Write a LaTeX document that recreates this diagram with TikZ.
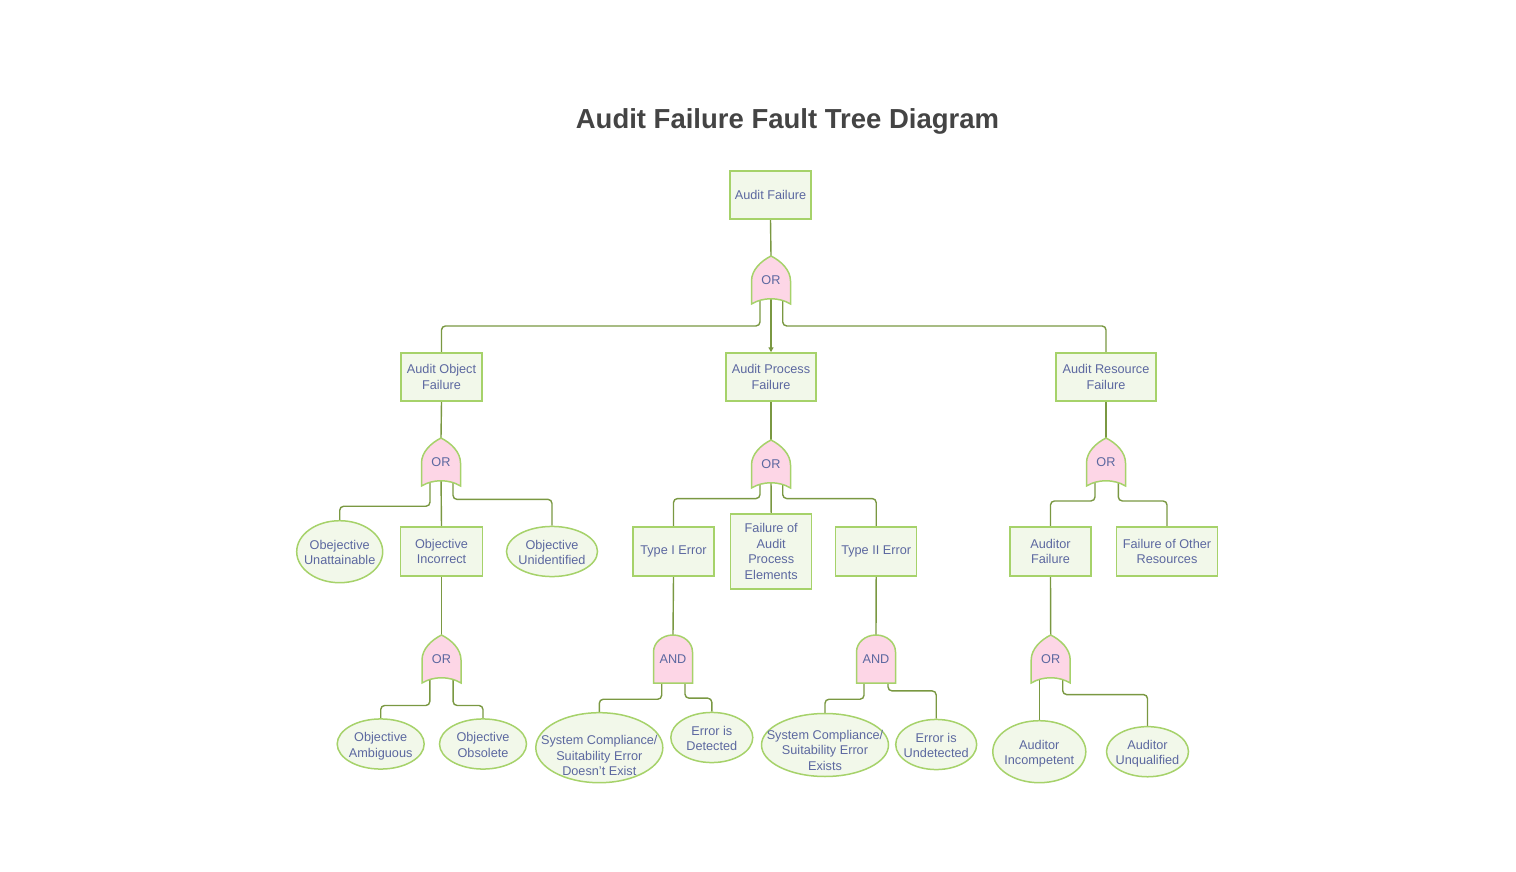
\documentclass[tikz,border=0pt]{standalone}
\usepackage{fontspec}
\setmainfont{Liberation Sans}
\usetikzlibrary{shapes.geometric,arrows.meta}
\definecolor{txtc}{RGB}{92,104,160}
\definecolor{boxfill}{RGB}{242,248,234}
\definecolor{boxline}{RGB}{166,210,106}
\definecolor{linec}{RGB}{122,152,66}
\definecolor{gatefill}{RGB}{253,214,230}
\definecolor{titlec}{RGB}{68,68,68}
\pgfdeclarelayer{background}
\pgfsetlayers{background,main}
\newcommand{\ztext}[1]{\makebox[0pt]{\begin{tabular}{@{}c@{}}\rule{0pt}{15.3pt}#1\end{tabular}}}
\tikzset{
  lbl/.style={font=\fontsize{12.7}{15.5}\selectfont, text=txtc, align=center, inner sep=0pt},
  box/.style={lbl, draw=boxline, fill=boxfill, line width=1.5pt, rectangle},
  ell/.style={lbl, draw=boxline, fill=boxfill, line width=1.5pt, ellipse},
  gatenode/.style={lbl, rectangle, minimum width=39pt, minimum height=48pt},
  gateshape/.style={draw=boxline, fill=gatefill, line width=1.5pt},
  conn/.style={draw=linec, line width=1.4pt, rounded corners=4pt},
}
\newcommand{\drawOrGate}[3]{%
  \path[gateshape] ({#2-19.5},{#3+24}) -- ({#2-19.5},{#3+1})
    .. controls ({#2-19.5},{#3-10}) and ({#2-10},{#3-19}) .. ({#2},{#3-24})
    .. controls ({#2+10},{#3-19}) and ({#2+19.5},{#3-10}) .. ({#2+19.5},{#3+1})
    -- ({#2+19.5},{#3+24})
    .. controls ({#2+8},{#3+17}) and ({#2-8},{#3+17}) .. cycle;
  \node[gatenode] (#1) at (#2,#3) {OR};
}
\newcommand{\drawAndGate}[3]{%
  \path[gateshape] ({#2-19.5},{#3+24}) -- ({#2-19.5},{#3-7})
    .. controls ({#2-19.5},{#3-16.4}) and ({#2-10.8},{#3-24}) .. ({#2},{#3-24})
    .. controls ({#2+10.8},{#3-24}) and ({#2+19.5},{#3-16.4}) .. ({#2+19.5},{#3-7})
    -- ({#2+19.5},{#3+24}) -- cycle;
  \node[gatenode] (#1) at (#2,#3) {AND};
}
\begin{document}
\begin{tikzpicture}[x=1pt,y=-1pt]
\useasboundingbox (0,0) rectangle (1516,872);

\node[text=titlec, inner sep=0pt] (title) at (787.5,121) {\fontsize{27.5}{30}\selectfont\bfseries Audit Failure Fault Tree Diagram};

% level 1
\node[box, minimum width=81pt, minimum height=48pt] (AF) at (770.5,195) {Audit Failure};
\drawOrGate{gA}{771}{280}

% level 2
\node[box, minimum width=81pt, minimum height=48pt] (AOF) at (441.5,377) {Audit Object\\Failure};
\node[box, minimum width=90pt, minimum height=48pt] (APF) at (771,377) {Audit Process\\Failure};
\node[box, minimum width=100pt, minimum height=48pt] (ARF) at (1106,377) {Audit Resource\\Failure};
\drawOrGate{gB}{441}{462}
\drawOrGate{gC}{771}{464}
\drawOrGate{gD}{1106}{462}

% level 3
\node[ell, minimum width=86pt, minimum height=62pt] (eU) at (339.7,551.7) {\ztext{Obejective\\Unattainable}};
\node[box, minimum width=81.6pt, minimum height=49pt] (oI) at (441.5,551.5) {Objective\\Incorrect};
\node[ell, minimum width=91pt, minimum height=49pt] (eUn) at (552,551.5) {\ztext{Objective\\Unidentified}};
\node[box, minimum width=81pt, minimum height=49pt] (T1) at (673.5,551.5) {Type I Error};
\node[box, minimum width=81pt, minimum height=75pt] (FAPE) at (771.2,551.7) {Failure of\\Audit\\Process\\Elements};
\node[box, minimum width=81pt, minimum height=49pt] (T2) at (876.2,551.5) {Type II Error};
\node[box, minimum width=81pt, minimum height=49pt] (AuF) at (1050.5,551.5) {Auditor\\Failure};
\node[box, minimum width=100.6pt, minimum height=49pt] (FOR) at (1167,551.5) {Failure of Other\\Resources};

\drawOrGate{gE}{441.5}{659}
\drawAndGate{gF}{673}{659}
\drawAndGate{gG}{876}{659}
\drawOrGate{gH}{1050.7}{659}

% level 4
\node[ell, minimum width=87pt, minimum height=48pt] (eAm) at (380.7,744) {\ztext{Objective\\Ambiguous}};
\node[ell, minimum width=87pt, minimum height=48pt] (eOb) at (483,744) {\ztext{Objective\\Obsolete}};
\node[ell, minimum width=127pt, minimum height=70pt] (sc1) at (599.3,747.7) {};
\node[lbl] (sc1t) at (599.3,755.5) {System Compliance/\\Suitability Error\\Doesn't Exist};
\node[ell, minimum width=82pt, minimum height=48pt] (eDet) at (711.8,737.5) {\ztext{Error is\\Detected}};
\node[ell, minimum width=127pt, minimum height=63pt] (sc2) at (825,745) {};
\node[lbl] (sc2t) at (825,750) {System Compliance/\\Suitability Error\\Exists};
\node[ell, minimum width=81pt, minimum height=48pt] (eUnd) at (936.2,744.5) {\ztext{Error is\\Undetected}};
\node[ell, minimum width=93pt, minimum height=62pt] (eInc) at (1039.3,751.7) {\ztext{Auditor\\Incompetent}};
\node[ell, minimum width=82pt, minimum height=49pt] (eUnq) at (1147.5,751.7) {\ztext{Auditor\\Unqualified}};

\begin{pgfonlayer}{background}
% box -> gate
\draw[conn] (AF.south) -- (gA.north);
\draw[conn] (AOF.south) -- (gB.north);
\draw[conn] (APF.south) -- (gC.north);
\draw[conn] (ARF.south) -- (gD.north);
\draw[conn] (oI.south) -- (gE.north);
\draw[conn] (T1.south) -- (gF.north);
\draw[conn] (T2.south) -- (gG.north);
\draw[conn] (AuF.south) -- (gH.north);

% gate A
\draw[conn] ([xshift=-11pt,yshift=10pt]gA.south) |- ([yshift=26.3pt]AOF.north) -- (AOF.north);
\draw[conn, -{Triangle[length=5pt,width=5pt]}] ([yshift=10pt]gA.south) -- (APF.north);
\draw[conn] ([xshift=11.7pt,yshift=10pt]gA.south) |- ([yshift=26.3pt]ARF.north) -- (ARF.north);

% gate B
\draw[conn] ([xshift=-11pt,yshift=10pt]gB.south) |- ([yshift=13.7pt]eU.north) -- (eU.north);
\draw[conn] ([yshift=10pt]gB.south) -- (oI.north);
\draw[conn] ([xshift=12pt,yshift=10pt]gB.south) |- ([yshift=26.3pt]eUn.north) -- (eUn.north);

% gate C
\draw[conn] ([xshift=-11pt,yshift=10pt]gC.south) |- ([yshift=27.7pt]T1.north) -- (T1.north);
\draw[conn] ([yshift=10pt]gC.south) -- (FAPE.north);
\draw[conn] ([xshift=11.7pt,yshift=10pt]gC.south) |- ([yshift=27.7pt]T2.north) -- (T2.north);

% gate D
\draw[conn] ([xshift=-11pt,yshift=10pt]gD.south) |- ([yshift=25.3pt]AuF.north) -- (AuF.north);
\draw[conn] ([xshift=12.3pt,yshift=10pt]gD.south) |- ([yshift=25.3pt]FOR.north) -- (FOR.north);

% gate E
\draw[conn] ([xshift=-11.7pt,yshift=10pt]gE.south) |- ([yshift=12.7pt]eAm.north) -- (eAm.north);
\draw[conn] ([xshift=11.6pt,yshift=10pt]gE.south) |- ([yshift=12.7pt]eOb.north) -- (eOb.north);

% gate F
\draw[conn] ([xshift=-11.3pt,yshift=10pt]gF.south) |- ([yshift=12.7pt]sc1.north) -- (sc1.north);
\draw[conn] ([xshift=12pt,yshift=10pt]gF.south) |- ([yshift=13.5pt]eDet.north) -- (eDet.north);

% gate G
\draw[conn] ([xshift=-12pt,yshift=10pt]gG.south) |- ([yshift=13.5pt]sc2.north) -- (sc2.north);
\draw[conn] ([xshift=12pt,yshift=10pt]gG.south) |- ([yshift=27.8pt]eUnd.north) -- (eUnd.north);

% gate H
\draw[conn] ([xshift=-11.4pt,yshift=10pt]gH.south) -- (eInc.north);
\draw[conn] ([xshift=12pt,yshift=10pt]gH.south) |- ([yshift=31.3pt]eUnq.north) -- (eUnq.north);
\end{pgfonlayer}
\end{tikzpicture}
\end{document}
